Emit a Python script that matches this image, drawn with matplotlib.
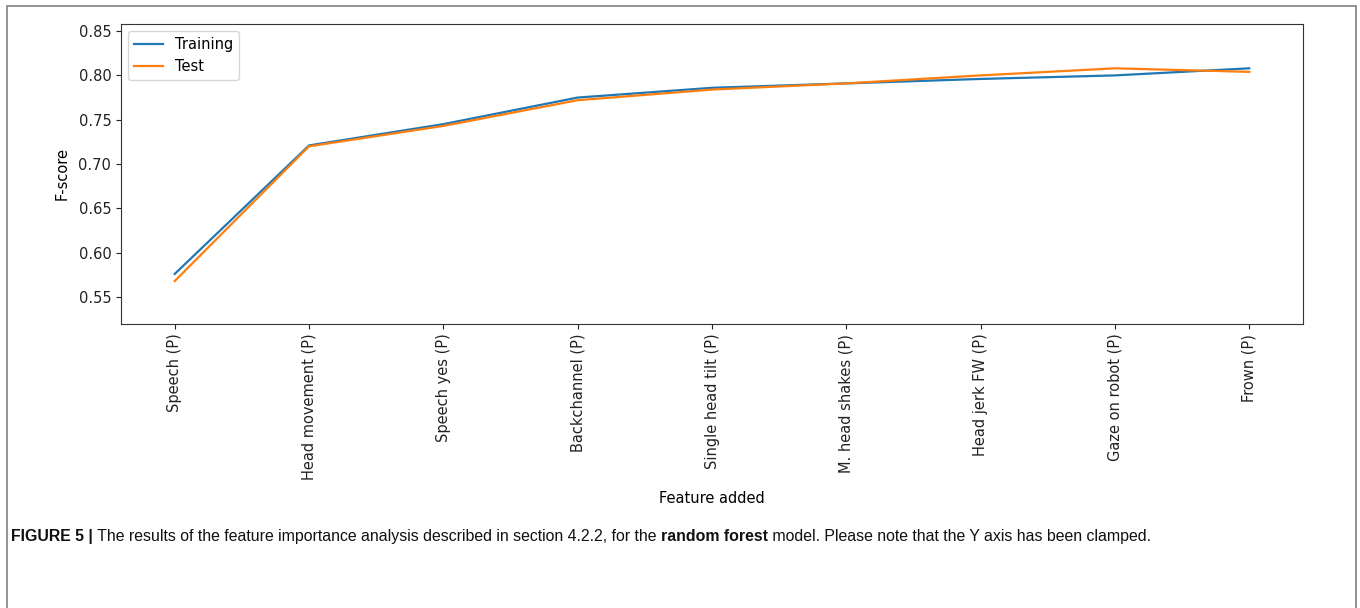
import matplotlib
matplotlib.use("Agg")
import matplotlib.pyplot as plt
from matplotlib.patches import Rectangle

plt.rcParams["font.family"] = "DejaVu Sans"

# feature added at each step (x axis)
features = ["Speech (P)", "Head movement (P)", "Speech yes (P)", "Backchannel (P)",
            "Single head tilt (P)", "M. head shakes (P)", "Head jerk FW (P)",
            "Gaze on robot (P)", "Frown (P)"]

# F-scores
training = [0.576, 0.721, 0.745, 0.775, 0.786, 0.791, 0.796, 0.800, 0.808]
test = [0.568, 0.720, 0.743, 0.772, 0.784, 0.791, 0.800, 0.808, 0.804]

fig = plt.figure(figsize=(13.6, 6.08), dpi=100)

# outer frame of the journal figure
fig.patches.append(Rectangle((7 / 1360, -0.05), 1349 / 1360, 1.05 - 6 / 608,
                             transform=fig.transFigure, fill=False,
                             edgecolor="#8a8a8a", linewidth=1.3))

ax = fig.add_axes([121 / 1360, 1 - 324 / 608, 1182 / 1360, 300 / 608])
x = list(range(len(features)))
ax.plot(x, training, color="#1f77b4", linewidth=1.6, label="Training")
ax.plot(x, test, color="#ff7f0e", linewidth=1.6, label="Test")

ax.set_xlim(-0.4, len(features) - 1 + 0.4)
ax.set_ylim(0.5195, 0.858)
ax.set_yticks([0.55, 0.60, 0.65, 0.70, 0.75, 0.80, 0.85])
ax.set_xticks(x)
ax.set_xticklabels(features, rotation=90, fontsize=10.5)
ax.tick_params(axis="y", labelsize=10.5)
ax.tick_params(colors="#222222")
for s in ax.spines.values():
    s.set_color("#333333")
ax.set_ylabel("F-score", fontsize=10.5, labelpad=6)
ax.set_xlabel("Feature added", fontsize=10.5, labelpad=8)
ax.legend(loc="upper left", fontsize=10.5, framealpha=0.8, handlelength=2)

# caption, mixed bold / regular
cap_font = ["Liberation Sans", "DejaVu Sans"]
pieces = [("FIGURE 5 |", "bold"),
          (" The results of the feature importance analysis described in section 4.2.2, for the ", "normal"),
          ("random forest", "bold"),
          (" model. Please note that the Y axis has been clamped.", "normal")]
last = None
for txt, w in pieces:
    t = fig.text(11 / 1360, 1 - 544 / 608, txt, fontsize=11.45, fontweight=w,
                 family=cap_font, va="bottom", ha="left", color="#111111")
    if last is not None:
        # place right after previous piece
        fig.canvas.draw()
        bb = last.get_window_extent()
        t.set_position((bb.x1 / 1360, bb.y0 / 608))
    last = t

fig.savefig("out.png", dpi=100)
